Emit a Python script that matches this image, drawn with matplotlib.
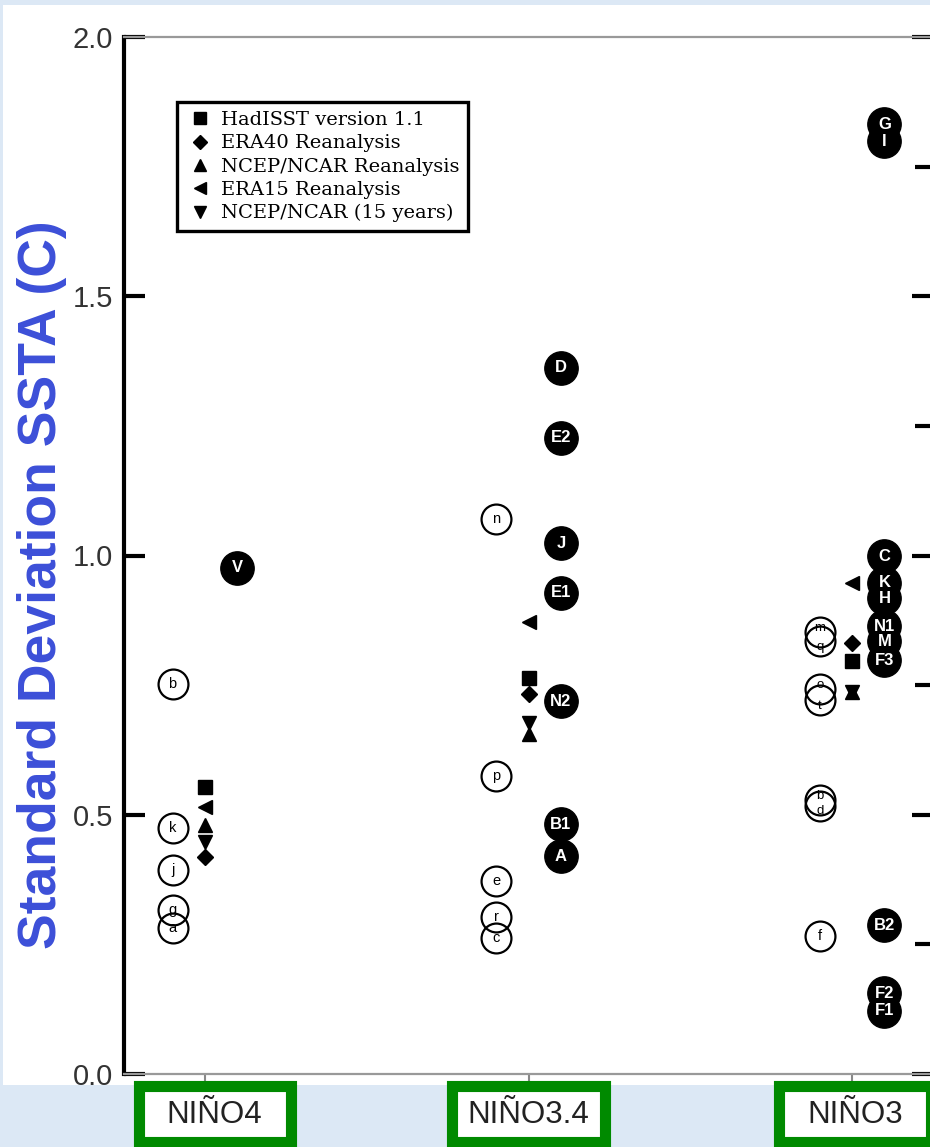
import numpy as np
import matplotlib.pyplot as plt
from matplotlib.patches import Rectangle
from matplotlib.lines import Line2D
from matplotlib.transforms import blended_transform_factory

# regions along x
regions = ['NIÑO4', 'NIÑO3.4', 'NIÑO3']

# observations / reanalyses (one value per region)
hadisst = [0.554, 0.764, 0.797]
era40 = [0.419, 0.733, 0.831]
ncep = [0.480, 0.656, 0.737]
era15 = [0.515, 0.872, 0.947]
ncep15 = [0.447, 0.677, 0.737]

# models, open circles
open_labels = [['b', 'k', 'j', 'g', 'a'],
               ['n', 'p', 'e', 'r', 'c'],
               ['m', 'q', 'o', 't', 'b', 'd', 'f']]
open_values = [[0.752, 0.474, 0.393, 0.316, 0.282],
               [1.070, 0.575, 0.372, 0.303, 0.262],
               [0.852, 0.835, 0.742, 0.721, 0.528, 0.517, 0.266]]

# models, filled circles
fill_labels = [['V'],
               ['D', 'E2', 'J', 'E1', 'N2', 'B1', 'A'],
               ['G', 'I', 'C', 'K', 'H', 'N1', 'M', 'F3', 'B2', 'F2', 'F1']]
fill_values = [[0.976],
               [1.362, 1.227, 1.024, 0.928, 0.719, 0.482, 0.420],
               [1.832, 1.799, 0.999, 0.947, 0.918, 0.864, 0.835, 0.798, 0.287, 0.156, 0.122]]

W, H = 930, 1147
fig = plt.figure(figsize=(W / 100, H / 100), dpi=100, facecolor='#dce8f5')
fig.patches.append(Rectangle((3 / W, 62 / H), 927 / W, 1080 / H,
                             transform=fig.transFigure, fc='white', ec='none', zorder=-5))

ax = fig.add_axes([124 / W, 73 / H, 809 / W, 1037 / H])
ax.set_zorder(2)
ax.patch.set_alpha(0)

x = np.arange(len(regions))

# open circles
for i in range(len(regions)):
    vals = open_values[i]
    xs = np.full(len(vals), x[i] - 0.10)
    ax.plot(xs, vals, 'o', ms=21.5, mfc='none', mec='black', mew=1.6, zorder=3)
    for k, (lab, v) in enumerate(zip(open_labels[i], vals)):
        # nudge letters of nearly coincident circles apart
        dy = 0
        if k + 1 < len(vals) and vals[k] - vals[k + 1] < 0.025:
            dy = 3
        elif k > 0 and vals[k - 1] - vals[k] < 0.025:
            dy = -4
        ax.annotate(lab, (x[i] - 0.10, v), xytext=(0, dy), textcoords='offset points',
                    ha='center', va='center', fontsize=9.5 if dy else 10.5,
                    family='Liberation Sans', color='black', zorder=4)

# filled circles
for i in range(len(regions)):
    xs = np.full(len(fill_values[i]), x[i] + 0.10)
    ax.plot(xs, fill_values[i], 'o', ms=24, mfc='black', mec='black', zorder=3)
for i in range(len(regions)):
    for lab, v in zip(fill_labels[i], fill_values[i]):
        ax.text(x[i] + 0.10, v, lab, ha='center', va='center', fontsize=12,
                family='Liberation Sans', weight='bold', color='white', zorder=5)

# reanalyses
ax.plot(x, hadisst, 's', ms=10, color='black', ls='none', zorder=4)
ax.plot(x, era40, 'D', ms=8, color='black', ls='none', zorder=4)
ax.plot(x, ncep, '^', ms=10, color='black', ls='none', zorder=4)
ax.plot(x, era15, '<', ms=10, color='black', ls='none', zorder=4)
ax.plot(x, ncep15, 'v', ms=10, color='black', ls='none', zorder=4)

handles = [Line2D([], [], marker='s', ms=9, color='black', ls='none'),
           Line2D([], [], marker='D', ms=7, color='black', ls='none'),
           Line2D([], [], marker='^', ms=9, color='black', ls='none'),
           Line2D([], [], marker='<', ms=9, color='black', ls='none'),
           Line2D([], [], marker='v', ms=9, color='black', ls='none')]
names = ['HadISST version 1.1', 'ERA40 Reanalysis', 'NCEP/NCAR Reanalysis',
         'ERA15 Reanalysis', 'NCEP/NCAR (15 years)']
leg = ax.legend(handles, names, loc='upper left', bbox_to_anchor=(0.0655, 0.937),
                borderaxespad=0, fancybox=False, framealpha=1, edgecolor='black',
                prop={'family': 'DejaVu Serif', 'size': 14},
                handlelength=1.5, handletextpad=0.3, labelspacing=0.27,
                borderpad=0.45)
leg.get_frame().set_linewidth(2.4)

ax.set_xlim(-0.25, 2.25)
ax.set_ylim(0, 2.0)
ax.set_yticks([0, 0.5, 1.0, 1.5, 2.0])
ax.set_yticklabels(['0.0', '0.5', '1.0', '1.5', '2.0'])
ax.set_yticks(np.arange(0.25, 2.0, 0.5), minor=True)
ax.tick_params(axis='y', which='major', direction='in', length=15, width=3,
               left=True, right=True, labelsize=21, labelcolor='#333333', pad=8)
ax.tick_params(axis='y', which='minor', direction='in', length=13, width=3,
               left=False, right=True)
for t in ax.get_yticklabels():
    t.set_family('Liberation Sans')
ax.set_xticks(x)
ax.set_xticklabels([])
ax.tick_params(axis='x', direction='out', length=8, width=1.5, color='#888888')

ax.spines['left'].set_linewidth(3)
ax.spines['left'].set_color('black')
for s in ['top', 'bottom']:
    ax.spines[s].set_linewidth(1.6)
    ax.spines[s].set_color('#999999')
ax.spines['right'].set_linewidth(3)

fig.text(42 / W, 1 - 585 / H, 'Standard Deviation SSTA (C)', rotation=90,
         ha='center', va='center', fontsize=38.5, weight='bold',
         family='Liberation Sans', color='#3c4fd8')

# green boxes for region names
tr = blended_transform_factory(ax.transData, fig.transFigure)
bw = 152 / 323.5
shift = [0.03, 0.0, 0.01]
for i, name in enumerate(regions):
    cx = x[i] + shift[i]
    ax.add_patch(Rectangle((cx - bw / 2, 5.5 / H), bw, 56 / H, transform=tr,
                           fc='white', ec='#008a00', lw=8, clip_on=False, zorder=5))
    ax.text(cx, 32 / H, name, transform=tr, ha='center', va='center',
            fontsize=22.5, family='Liberation Sans', color='#222222', zorder=6,
            clip_on=False)

fig.savefig('out.png', dpi=100, facecolor=fig.get_facecolor())
